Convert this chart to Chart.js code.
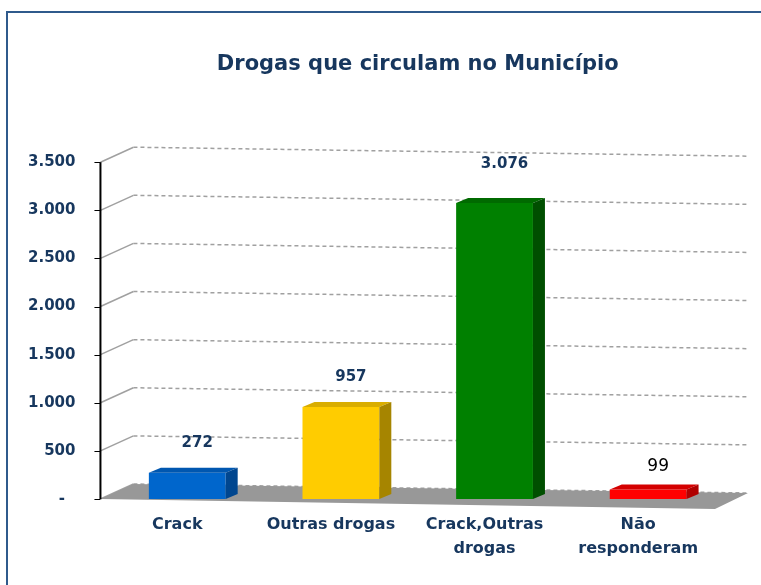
<!DOCTYPE html>
<html lang="pt-BR">
<head>
<meta charset="utf-8">
<title>Drogas que circulam no Município</title>
<script src="https://cdn.jsdelivr.net/npm/chart.js@4.4.0/dist/chart.umd.min.js"></script>
<style>
  html, body { margin: 0; padding: 0; background: #fff; overflow: hidden; }
  #wrap { position: relative; width: 761px; height: 585px; }
  #moldura {
    position: absolute; left: 6px; top: 11px; width: 800px; height: 620px;
    border-left: 2px solid #2f5a8c; border-top: 2px solid #2f5a8c;
  }
  #grafico { position: absolute; left: 0; top: 0; }
</style>
</head>
<body>
<div id="wrap">
  <div id="moldura"></div>
  <canvas id="grafico" width="761" height="585"></canvas>
</div>
<script>
// --- Dados ---------------------------------------------------------------
const categorias = [['Crack'], ['Outras drogas'], ['Crack,Outras', 'drogas'], ['Não', 'responderam']];
const valores = [272, 957, 3076, 99];
const ticksY = [0, 500, 1000, 1500, 2000, 2500, 3000, 3500];

// --- Estilo --------------------------------------------------------------
const azulTexto = '#17375e';
const corFrente = ['#0066cc', '#ffcc00', '#008000', '#ff0000'];
const corLado   = ['#00468f', '#a68500', '#004f00', '#b00000'];
const corTopo   = ['#0057b0', '#d9ad00', '#006a00', '#d40000'];
const corRotulo = [azulTexto, azulTexto, azulTexto, '#000000'];
const rotuloNegrito = [true, true, true, false];
const rotuloDy = [25, 25, 34, 18];   // distância do rótulo acima do topo

// formato pt-BR: 3.076, zero vira "-"
function fmt(n) {
  if (n === 0) return '-  ';
  return String(n).replace(/\B(?=(\d{3})+(?!\d))/g, '.');
}

// Efeito 3D estilo Excel: piso, parede com grade tracejada, topo e lateral das barras
const efeito3d = {
  id: 'efeito3d',
  beforeDatasetsDraw(chart, args, o) {
    const { ctx, chartArea: { left, right, top, bottom }, scales: { y } } = chart;
    const ax = left - o.shift;          // linha do eixo Y
    const fimFrente = right - o.shift;  // canto frontal direito do piso
    const fimFundo = fimFrente + o.dx;
    ctx.save();
    // grade da parede
    ticksY.forEach(v => {
      const py = y.getPixelForValue(v);
      ctx.strokeStyle = '#a0a0a0';
      ctx.lineWidth = 1.5;
      ctx.setLineDash([]);
      ctx.beginPath();
      ctx.moveTo(ax, py);
      ctx.lineTo(ax + o.dx, py + o.dy);
      ctx.stroke();
      ctx.setLineDash([4, 3]);
      ctx.beginPath();
      ctx.moveTo(ax + o.dx, py + o.dy);
      ctx.lineTo(fimFundo, py + o.dy + o.tilt);
      ctx.stroke();
    });
    ctx.setLineDash([]);
    // piso
    const y0 = y.getPixelForValue(0);
    ctx.fillStyle = '#989898';
    ctx.beginPath();
    ctx.moveTo(ax, y0);
    ctx.lineTo(ax + o.dx, y0 + o.dy);
    ctx.lineTo(fimFundo, y0 + o.dy + o.tilt);
    ctx.lineTo(fimFrente, y0 + o.tilt + 1);
    ctx.closePath();
    ctx.fill();
    // eixo Y e marcas
    ctx.strokeStyle = '#000';
    ctx.lineWidth = 2;
    ctx.beginPath();
    ctx.moveTo(ax, top);
    ctx.lineTo(ax, bottom);
    ctx.stroke();
    ctx.lineWidth = 1;
    ticksY.forEach(v => {
      const py = Math.round(y.getPixelForValue(v)) + 0.5;
      ctx.beginPath();
      ctx.moveTo(ax - 6, py);
      ctx.lineTo(ax, py);
      ctx.stroke();
    });
    ctx.restore();
  },
  afterDatasetsDraw(chart, args, o) {
    const { ctx } = chart;
    const meta = chart.getDatasetMeta(0);
    ctx.save();
    meta.data.forEach((bar, i) => {
      const { x, y, base, width } = bar.getProps(['x', 'y', 'base', 'width'], true);
      const l = x - width / 2, r = x + width / 2;
      // topo
      ctx.fillStyle = corTopo[i];
      ctx.beginPath();
      ctx.moveTo(l, y);
      ctx.lineTo(l + o.bdx, y + o.bdy);
      ctx.lineTo(r + o.bdx, y + o.bdy);
      ctx.lineTo(r, y);
      ctx.closePath();
      ctx.fill();
      // lateral
      ctx.fillStyle = corLado[i];
      ctx.beginPath();
      ctx.moveTo(r, y);
      ctx.lineTo(r + o.bdx, y + o.bdy);
      ctx.lineTo(r + o.bdx, base + o.bdy);
      ctx.lineTo(r, base);
      ctx.closePath();
      ctx.fill();
      // rótulo de dados
      ctx.fillStyle = corRotulo[i];
      ctx.font = rotuloNegrito[i] ? 'bold 15px "DejaVu Sans"' : '17px "DejaVu Sans"';
      ctx.textAlign = 'center';
      ctx.textBaseline = 'middle';
      ctx.fillText(fmt(valores[i]), x + 10, y + o.bdy - rotuloDy[i]);
    });
    ctx.restore();
  }
};

const ctx = document.getElementById('grafico').getContext('2d');
const grafico = new Chart(ctx, {
  type: 'bar',
  data: {
    labels: categorias,
    datasets: [{
      data: valores,
      backgroundColor: corFrente,
      borderWidth: 0,
      barPercentage: 0.5,
      categoryPercentage: 1.0
    }]
  },
  options: {
    responsive: false,
    animation: false,
    layout: { padding: { left: 0, right: 36, top: 52, bottom: 12 } },
    plugins: {
      legend: { display: false },
      tooltip: { enabled: false },
      title: {
        display: true,
        fullSize: false,
        text: 'Drogas que circulam no Município',
        color: azulTexto,
        font: { family: '"DejaVu Sans"', size: 21, weight: 'bold' },
        padding: { top: 0, bottom: 85 }
      },
      efeito3d: { shift: 10, dx: 33, dy: -15, tilt: 9, bdx: 12, bdy: -5 }
    },
    scales: {
      x: {
        grid: { display: false, tickLength: 2 },
        border: { display: false },
        ticks: {
          color: azulTexto,
          font: { family: '"DejaVu Sans"', size: 16, weight: 'bold', lineHeight: 1.5 },
          padding: 12,
          labelOffset: -10,
          maxRotation: 0,
          autoSkip: false
        }
      },
      y: {
        min: 0,
        max: 3500,
        grid: { display: false, tickLength: 7 },
        border: { display: false },
        afterBuildTicks: axis => { axis.ticks = ticksY.map(v => ({ value: v })); },
        ticks: {
          color: azulTexto,
          font: { family: '"DejaVu Sans"', size: 15, weight: 'bold' },
          padding: 28,
          callback: v => fmt(v)
        }
      }
    }
  },
  plugins: [efeito3d]
});
</script>
</body>
</html>
